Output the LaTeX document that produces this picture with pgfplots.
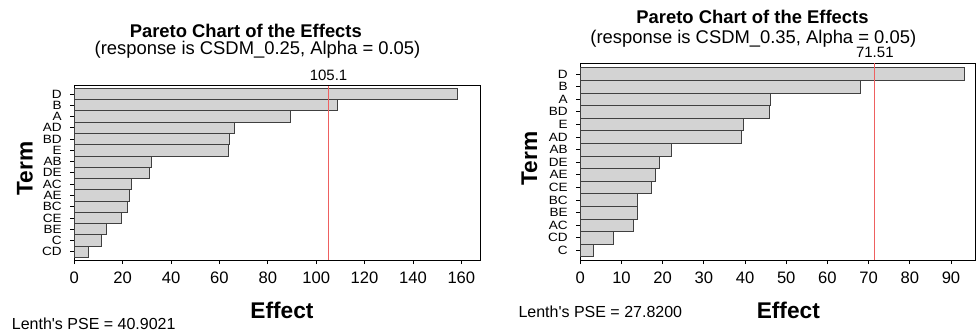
\documentclass[border=0pt]{standalone}
\usepackage{fontspec}
\setmainfont{Liberation Sans}
\newfontfamily\widesans[FakeStretch=1.13]{Liberation Sans}
\usepackage{pgfplots}
\pgfplotsset{compat=1.18}
\usepackage{pgfplotstable}
\definecolor{barfill}{RGB}{211,211,211}
\definecolor{refred}{RGB}{238,96,96}

\pgfplotstableread{
pos effect term
1 5.8 CD
2 11.2 C
3 13.4 BE
4 19.4 CE
5 22.0 BC
6 22.7 AE
7 23.4 AC
8 31.1 DE
9 31.8 AB
10 63.8 E
11 64.2 BD
12 66.1 AD
13 89.5 A
14 108.6 B
15 158.5 D
}\tabA

\pgfplotstableread{
pos effect term
1 3.3 C
2 8.0 CD
3 12.9 AC
4 13.8 BE
5 13.9 BC
6 17.2 CE
7 18.2 AE
8 19.1 DE
9 22.2 AB
10 39.1 AD
11 39.7 E
12 45.9 BD
13 46.1 A
14 67.9 B
15 93.2 D
}\tabB

\pgfplotsset{pareto/.style={
  scale only axis,
  axis line style={line width=0.9pt},
  tick align=outside, tick pos=left,
  major tick length=4pt,
  every tick/.style={black, line width=0.8pt},
  ytick={1,...,15},
  xticklabel style={font=\fontsize{16.6}{20}\selectfont, yshift=-4pt},
  yticklabel style={font=\widesans\fontsize{12}{12}\selectfont, inner sep=0pt, xshift=-8.5pt},
  /pgf/number format/assume math mode=true,
  xlabel style={font=\bfseries\fontsize{22.7}{26}\selectfont, anchor=center},
  ylabel style={font=\bfseries\fontsize{22.7}{26}\selectfont, anchor=center},
  clip=false,
}}

\begin{document}
\begin{tikzpicture}
\useasboundingbox (0,0) rectangle (976pt,335pt);

\begin{axis}[pareto,
  at={(74.3pt,75pt)}, anchor=south west,
  width=406.4pt, height=174.3pt,
  xmin=0, xmax=168, ymin=0.27, ymax=15.73,
  xtick={0,20,...,160},
  yticklabels from table={\tabA}{term},
  xlabel={Effect}, ylabel={Term},
  xlabel style={at={(axis description cs:0.511,-0.287)}},
  ylabel style={at={(axis description cs:-0.1213,0.526)}},
]
\addplot[xbar, bar width=1, fill=barfill, draw=black!75, line width=0.8pt] table[x=effect, y=pos] {\tabA};
\addplot[refred, line width=0.9pt, mark=none] coordinates {(105.1,0.27) (105.1,15.73)};
\node[font=\fontsize{15}{18}\selectfont, anchor=center] at (axis cs:105.1,15.73) [yshift=10.7pt] {105.1};
\end{axis}

\begin{axis}[pareto,
  at={(580.3pt,75pt)}, anchor=south west,
  width=395.4pt, height=196.7pt,
  xmin=0, xmax=96, ymin=0.24, ymax=15.85,
  xtick={0,10,...,90},
  yticklabels from table={\tabB}{term},
  xlabel={Effect}, ylabel={Term},
  xlabel style={at={(axis description cs:0.526,-0.254)}},
  ylabel style={at={(axis description cs:-0.129,0.517)}},
]
\addplot[xbar, bar width=1, fill=barfill, draw=black!75, line width=0.8pt] table[x=effect, y=pos] {\tabB};
\addplot[refred, line width=0.9pt, mark=none] coordinates {(71.51,0.24) (71.51,15.85)};
\node[font=\fontsize{15}{18}\selectfont, anchor=center] at (axis cs:71.51,15.85) [yshift=10.7pt] {71.51};
\end{axis}

\node[font=\bfseries\fontsize{18.4}{22}\selectfont] at (245.8pt,304.3pt) {Pareto Chart of the Effects};
\node[font=\fontsize{18.4}{22}\selectfont] at (257.5pt,285pt) {(response is CSDM\_0.25, Alpha = 0.05)};
\node[font=\bfseries\fontsize{18.4}{22}\selectfont] at (752.5pt,317.7pt) {Pareto Chart of the Effects};
\node[font=\fontsize{18.4}{22}\selectfont] at (753.3pt,296pt) {(response is CSDM\_0.35, Alpha = 0.05)};
\node[font=\fontsize{16}{19}\selectfont, anchor=west, inner sep=0pt] at (11.7pt,11pt) {Lenth\textquotesingle s PSE = 40.9021};
\node[font=\fontsize{16}{19}\selectfont, anchor=west, inner sep=0pt] at (518.3pt,23.3pt) {Lenth\textquotesingle s PSE = 27.8200};
\end{tikzpicture}
\end{document}
